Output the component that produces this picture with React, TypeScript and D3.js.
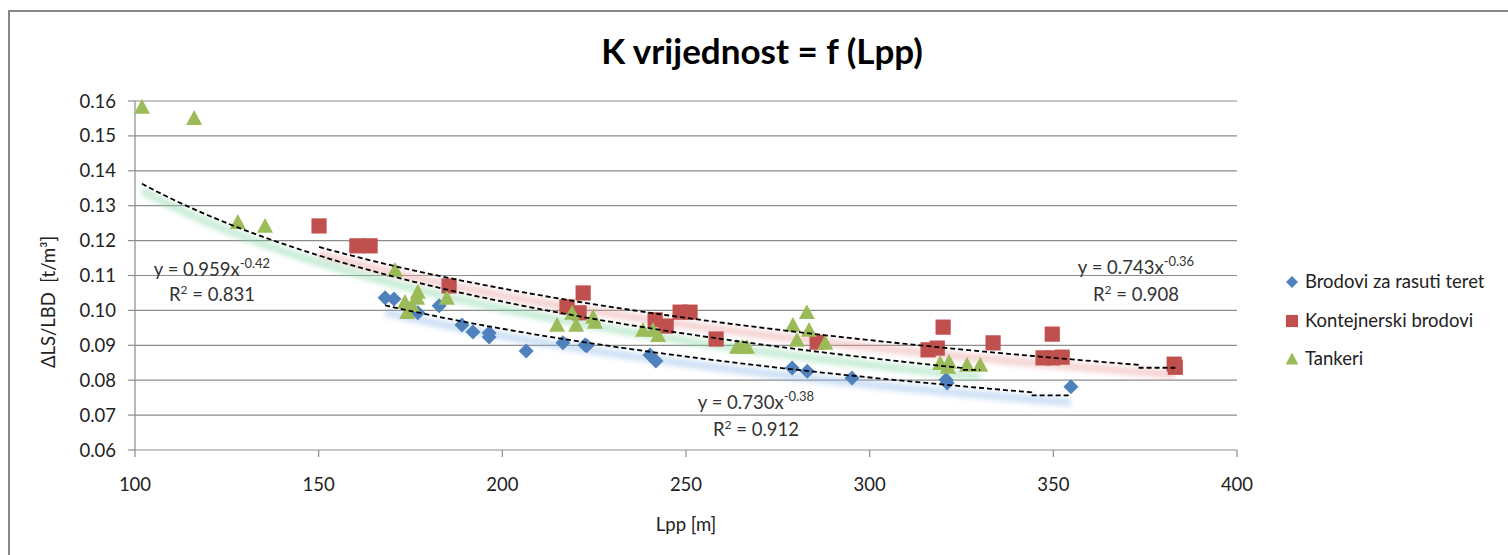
import React from 'react';
import * as d3 from 'd3';

// ---------- data ----------
const seriesNames = ['Brodovi za rasuti teret', 'Kontejnerski brodovi', 'Tankeri'];

const bulkLpp = [168.1, 170.5, 177.0, 182.8, 189.0, 192.0, 196.4, 196.4, 206.5, 216.5, 222.5, 223.0, 240.2, 241.8, 278.9, 283.0, 295.2, 320.8, 321.1, 354.8];
const bulkK = [0.1036, 0.1033, 0.0993, 0.1013, 0.0958, 0.0938, 0.0935, 0.0924, 0.0884, 0.0907, 0.0901, 0.0899, 0.0872, 0.0855, 0.0835, 0.0826, 0.0806, 0.0801, 0.0792, 0.0781];

const contLpp = [150.1, 160.4, 164.0, 185.5, 217.6, 222.0, 220.9, 241.6, 244.6, 248.4, 251.1, 258.2, 285.7, 315.9, 318.4, 320.0, 333.6, 349.7, 347.2, 349.9, 352.4, 382.9, 383.2];
const contK = [0.1242, 0.1185, 0.1185, 0.1070, 0.1010, 0.1050, 0.0993, 0.0973, 0.0955, 0.0995, 0.0995, 0.0918, 0.0909, 0.0887, 0.0892, 0.0952, 0.0907, 0.0932, 0.0864, 0.0864, 0.0866, 0.0846, 0.0837];

const tankLpp = [101.9, 116.1, 128.0, 135.4, 170.8, 173.5, 174.1, 175.4, 177.0, 176.8, 184.9, 214.9, 219.0, 220.1, 224.7, 225.2, 238.3, 241.0, 242.4, 263.9, 265.3, 266.6, 279.1, 282.9, 283.5, 280.2, 287.9, 319.2, 321.6, 321.3, 326.5, 330.1];
const tankK = [0.1583, 0.1551, 0.1253, 0.1242, 0.1116, 0.1024, 0.0995, 0.1015, 0.1053, 0.1036, 0.1036, 0.0958, 0.0993, 0.0958, 0.0981, 0.0967, 0.0944, 0.0944, 0.0929, 0.0895, 0.0895, 0.0895, 0.0958, 0.0995, 0.0944, 0.0915, 0.0907, 0.0849, 0.0852, 0.0838, 0.0844, 0.0844];

// power trendlines y = a * x^b
const trendA = [0.760, 0.7536, 0.960];
const trendB = [-0.393, -0.3697, -0.4222];
const trendStepAt = [344, 373, 325];

const xTicks = [100, 150, 200, 250, 300, 350, 400];
const yTicks = [0.06, 0.07, 0.08, 0.09, 0.10, 0.11, 0.12, 0.13, 0.14, 0.15, 0.16];

const eqCoef = ['0.730', '0.743', '0.959'];
const eqExp = ['-0.38', '-0.36', '-0.42'];
const eqR2 = ['0.912', '0.908', '0.831'];

const title = 'K vrijednost = f (Lpp)';
const xTitle = 'Lpp [m]';
const yTitle = 'ΔLS/LBD  [t/m³]';

// ---------- style ----------
const colors = ['#4F81BD', '#C0504D', '#9BBB59'];
const glowColors = ['#92bde8', '#eaa0a0', '#8ad6a8'];
const FONT = 'Lato, "Open Sans", sans-serif';
const FS = 18.5;

export default function App() {
  const W = 1508, H = 555;
  const left = 135, right = 1237, top = 101, bottom = 450;
  const x = d3.scaleLinear().domain([100, 400]).range([left, right]);
  const y = d3.scaleLinear().domain([0.06, 0.16]).range([bottom, top]);

  const series = [
    { xs: bulkLpp, ys: bulkK },
    { xs: contLpp, ys: contK },
    { xs: tankLpp, ys: tankK },
  ];

  const trend = series.map((s, si) => {
    const a = trendA[si], b = trendB[si];
    const [x0, x1] = d3.extent(s.xs) as [number, number];
    const f = (v: number) => a * Math.pow(v, b);
    const xs = trendStepAt[si];
    const pts: [number, number][] = d3.range(0, 61).map((i) => {
      const v = x0 + (xs - x0) * (i / 60);
      return [x(v), y(f(v))];
    });
    pts.push([x(xs), y(f(x1))]);
    pts.push([x(x1), y(f(x1))]);
    const glowPts: [number, number][] = d3.range(0, 61).map((i) => {
      const v = x0 + (x1 - x0) * (i / 60);
      return [x(v), y(f(v)) + 7];
    });
    return { dashed: d3.line()(pts)!, glow: d3.line()(glowPts)! };
  });

  const diamond = (cx: number, cy: number, r: number) => `M${cx},${cy - r}L${cx + r},${cy}L${cx},${cy + r}L${cx - r},${cy}Z`;
  const square = (cx: number, cy: number, r: number) => `M${cx - r},${cy - r}h${2 * r}v${2 * r}h${-2 * r}Z`;
  const triangle = (cx: number, cy: number, r: number) => `M${cx},${cy - r}L${cx + r},${cy + r * 0.85}L${cx - r},${cy + r * 0.85}Z`;
  const shapes = [
    (cx: number, cy: number, k = 1) => diamond(cx, cy, 7.5 * k),
    (cx: number, cy: number, k = 1) => square(cx, cy, 7.6 * k),
    (cx: number, cy: number, k = 1) => triangle(cx, cy, 8 * k),
  ];

  const eqPos = [
    { x: 756, y: 409, r2y: 436 },
    { x: 1136, y: 274, r2y: 301 },
    { x: 212, y: 276, r2y: 301 },
  ];

  const legendY = [282, 321, 359];

  return (
    <svg width={W} height={H} style={{ position: 'fixed', left: 0, top: 0, background: '#fff' }} fontFamily={FONT}>
      <defs>
        <filter id="blur" x="-10%" y="-50%" width="120%" height="200%">
          <feGaussianBlur stdDeviation="2.8" />
        </filter>
      </defs>
      <rect x={0} y={0} width={W} height={H} fill="#fff" />
      <rect x={9} y={11} width={W + 20} height={H + 20} fill="none" stroke="#878787" strokeWidth={2} />

      <text x={762} y={64} textAnchor="middle" fontSize={35} fontWeight="bold" fill="#000">{title}</text>

      {/* gridlines */}
      {yTicks.map((t) => (
        <line key={'g' + t} x1={left} x2={right} y1={y(t)} y2={y(t)} stroke="#8c8c8c" strokeWidth={1.2} />
      ))}
      {/* y axis */}
      <line x1={left} x2={left} y1={top} y2={bottom} stroke="#8c8c8c" strokeWidth={1.2} />
      {yTicks.map((t) => (
        <g key={'yt' + t}>
          <line x1={left - 7} x2={left} y1={y(t)} y2={y(t)} stroke="#8c8c8c" strokeWidth={1.2} />
          <text x={116} y={y(t) + 6.5} textAnchor="end" fontSize={FS} fill="#222">{d3.format('.2f')(t)}</text>
        </g>
      ))}
      {/* x axis */}
      {xTicks.map((t) => (
        <g key={'xt' + t}>
          <line x1={x(t)} x2={x(t)} y1={bottom} y2={bottom + 7} stroke="#8c8c8c" strokeWidth={1.2} />
          <text x={x(t)} y={491} textAnchor="middle" fontSize={FS} fill="#222">{t}</text>
        </g>
      ))}
      <text x={686} y={531} textAnchor="middle" fontSize={FS} fill="#222">{xTitle}</text>
      <text transform="translate(55,302) rotate(-90)" textAnchor="middle" fontSize={FS} fill="#222" style={{ whiteSpace: 'pre' }}>{yTitle}</text>

      {/* glows */}
      {trend.map((t, i) => (
        <path key={'glow' + i} d={t.glow} fill="none" stroke={glowColors[i]} strokeWidth={8} strokeOpacity={0.45} filter="url(#blur)" />
      ))}

      {/* markers */}
      {series.map((s, si) => (
        <g key={'s' + si}>
          {s.xs.map((v, i) => (
            <path key={i} d={shapes[si](x(v), y(s.ys[i]))} fill={colors[si]} />
          ))}
        </g>
      ))}

      {/* dashed trendlines */}
      {trend.map((t, i) => (
        <path key={'dash' + i} d={t.dashed} fill="none" stroke="#000" strokeWidth={1.8} strokeDasharray="5,3" />
      ))}

      {/* equations */}
      {eqPos.map((p, i) => (
        <g key={'eq' + i} fontSize={FS} fill="#333">
          <text x={p.x} y={p.y} textAnchor="middle">
            {`y = ${eqCoef[i]}x`}
            <tspan fontSize={13} dy={-8}>{eqExp[i]}</tspan>
          </text>
          <text x={p.x} y={p.r2y} textAnchor="middle">
            R<tspan fontSize={12} dy={-7}>2</tspan><tspan dy={7}>{` = ${eqR2[i]}`}</tspan>
          </text>
        </g>
      ))}

      {/* legend */}
      {seriesNames.map((n, i) => (
        <g key={'lg' + i}>
          <path d={shapes[i](1292, legendY[i], 0.8)} fill={colors[i]} />
          <text x={1305} y={legendY[i] + 6} fontSize={FS} fill="#222">{n}</text>
        </g>
      ))}
    </svg>
  );
}
